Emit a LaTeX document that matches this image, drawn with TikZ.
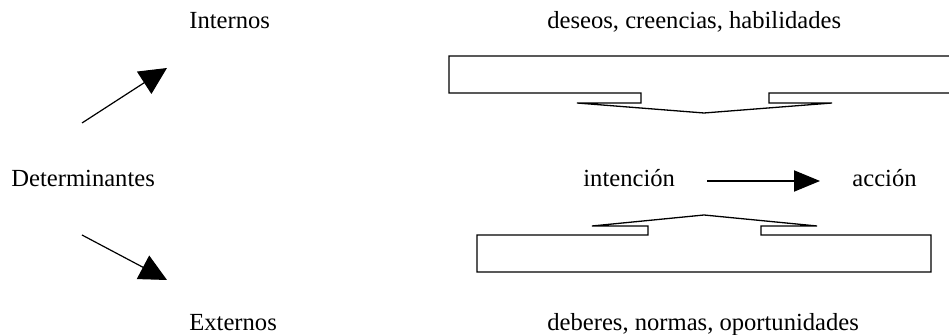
\documentclass[tikz,border=0pt]{standalone}
\usepackage{fontspec}
\setmainfont{Liberation Serif}
\usetikzlibrary{arrows.meta}
\begin{document}
\begin{tikzpicture}[x=0.5pt,y=-0.5pt,
  lbl/.style={inner sep=0pt,anchor=base west,font=\fontsize{12.3}{14}\selectfont},
  frame/.style={line width=0.65pt,line join=miter},
  bigarrow/.style={line width=0.6pt,-{Triangle[length=13.6pt,width=13.2pt]}},
  flatarrow/.style={line width=0.6pt,-{Triangle[length=13pt,width=10.6pt]}}]
\useasboundingbox (0,0) rectangle (949,335);
% texts
\node[lbl] (int) at (189,29) {Internos};
\node[lbl] (des) at (547,29) {deseos, creencias, habilidades};
\node[lbl] (det) at (11,187) {Determinantes};
\node[lbl] (inten) at (583,187) {intención};
\node[lbl] (acc) at (852,187) {acción};
\node[lbl] (ext) at (189,331) {Externos};
\node[lbl] (deb) at (547,331) {deberes, normas, oportunidades};
% arrow end points
\coordinate (upS) at (82,123);
\coordinate (upT) at (167,68);
\coordinate (dnS) at (82,235);
\coordinate (dnT) at (167,280);
\coordinate (hS) at (707,181);
\coordinate (hT) at (820,181);
\draw[bigarrow] (upS) -- (upT);
\draw[bigarrow] (dnS) -- (dnT);
\draw[flatarrow] (hS) -- (hT);
% top bracket
\draw[frame] (949,56) -- (449,56) -- (449,93) -- (641,93) -- (641,103) -- (577,103)
  -- (704,113) -- (832,103) -- (769,103) -- (769,93) -- (949,93);
% bottom bracket
\draw[frame] (704,215) -- (592,226) -- (648,226) -- (648,235) -- (477,235) -- (477,272)
  -- (931,272) -- (931,235) -- (761,235) -- (761,226) -- (817,226) -- cycle;
\end{tikzpicture}
\end{document}
